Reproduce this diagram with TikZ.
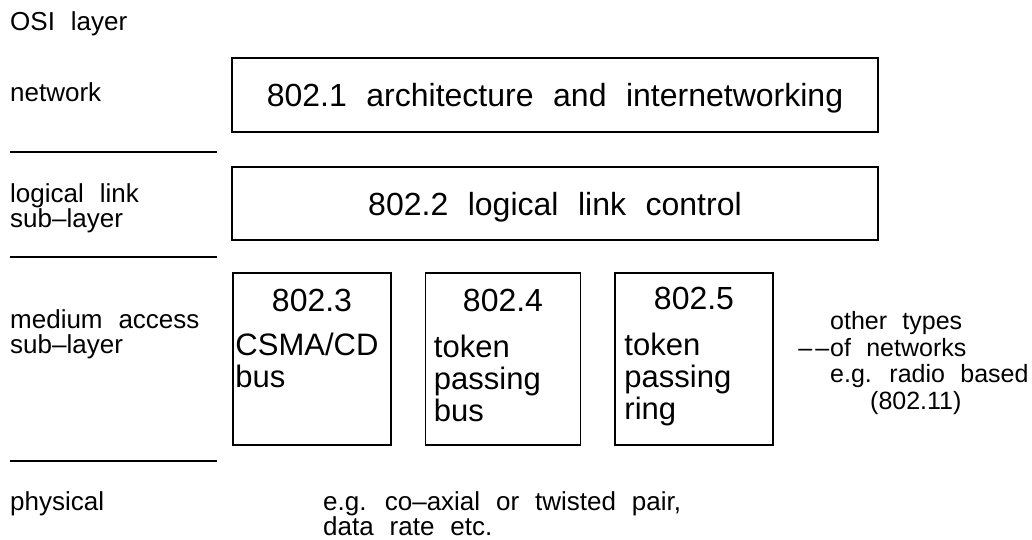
\documentclass[tikz,border=0pt]{standalone}
\usepackage{fontspec}
\setmainfont[WordSpace=2.2]{Liberation Sans}
\usetikzlibrary{positioning}

\tikzstyle{osi}=[anchor=base west, inner sep=0pt, align=left, font=\fontsize{26}{25}\selectfont]
\tikzstyle{layerbox}=[draw, line width=1.5pt, inner sep=0pt]
\tikzstyle{big}=[font=\fontsize{32}{32}\selectfont]
\tikzstyle{small}=[anchor=base west, inner sep=0pt, align=left, font=\fontsize{31}{32}\selectfont]
\tikzstyle{rule}=[line width=1.5pt]

\begin{document}
\begin{tikzpicture}[x=1pt, y=-1pt]
      \useasboundingbox (0,0) rectangle (1032,539);

      % layer names on the left (base = last line)
      \node[osi] (osi) at (10,30) {OSI layer};
      \node[osi] (net) at (10,101) {network};
      \node[osi] (llc) at (10,227) {logical link\\sub–layer};
      \node[osi] (mac) at (10,353) {medium access\\sub–layer};
      \node[osi] (phys) at (10,510) {physical};

      \draw[rule] (10,152) -- (217,152);
      \draw[rule] (10,257) -- (217,257);
      \draw[rule] (10,461) -- (217,461);

      % standards
      \node[layerbox, big, text depth=0pt, minimum width=646pt, minimum height=74pt] (arch) at (555,95) {802.1 architecture and internetworking};
      \node[layerbox, big, text depth=0pt, minimum width=646pt, minimum height=73pt] (link) at (555,203.5) {802.2 logical link control};

      \node[layerbox, minimum width=158pt, minimum height=172pt] (b3) at (312,359) {};
      \node[layerbox, minimum width=155pt, minimum height=172pt, right=33pt of b3] (b4) {};
      \node[layerbox, minimum width=158pt, minimum height=172pt, right=33pt of b4] (b5) {};

      \node[big, anchor=base, inner sep=0pt] (t3) at ([yshift=-39pt]b3.north) {802.3};
      \node[big, anchor=base, inner sep=0pt] (t4) at ([yshift=-39pt]b4.north) {802.4};
      \node[big, anchor=base, inner sep=0pt] (t5) at ([yshift=-37pt]b5.north) {802.5};

      \node[small] (d3) at ([xshift=3pt, yshift=-115pt]b3.north west) {CSMA/CD\\bus};
      \node[small] (d4) at ([xshift=9pt, yshift=-149pt]b4.north west) {token\\passing\\bus};
      \node[small] (d5) at ([xshift=10pt, yshift=-147pt]b5.north west) {token\\passing\\ring};

      \node[osi, font=\fontsize{25}{26.5}\selectfont] (other) at (830,409) {other types\\\llap{–\kern3pt–\kern1pt}of networks\\e.g. radio based\\\hspace*{40pt}(802.11)};

      \node[osi] (medium) at (323,535) {e.g. co–axial or twisted pair,\\data rate etc.};
    \end{tikzpicture}
\end{document}
